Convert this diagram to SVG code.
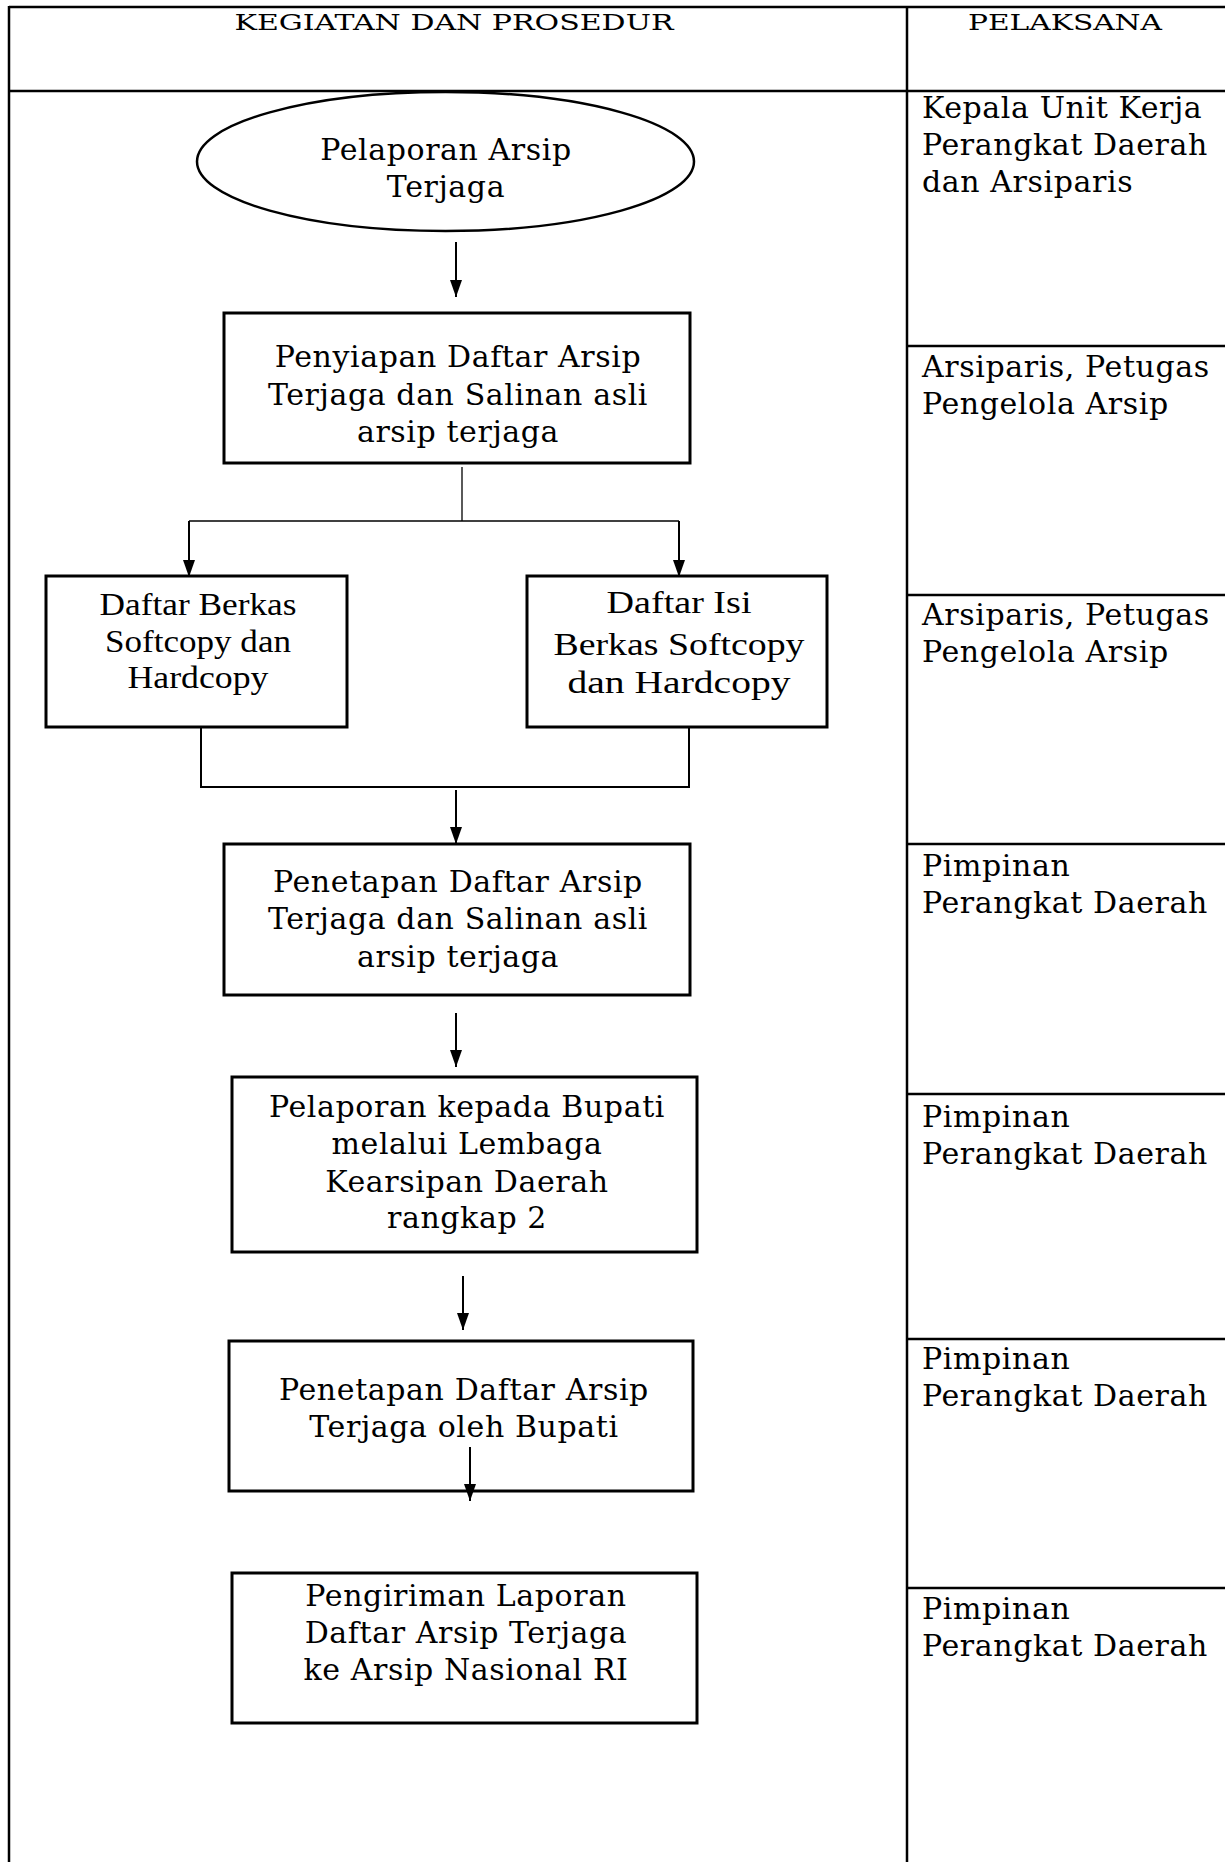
<svg xmlns="http://www.w3.org/2000/svg" width="1225" height="1862" viewBox="0 0 1225 1862">
<style>
.t{font-family:"DejaVu Serif","Liberation Serif",serif;font-size:30px;letter-spacing:0.6px;fill:#000}
.h{font-family:"DejaVu Serif","Liberation Serif",serif;font-size:23px;fill:#000}
.c{font-family:"Liberation Serif","DejaVu Serif",serif;font-size:31px;fill:#000}
.m{text-anchor:middle}
.box{fill:#fff;stroke:#000;stroke-width:3}
.tbl{stroke:#000;stroke-width:2.5;fill:none}
.ln{stroke:#000;stroke-width:2;fill:none}
.thin{stroke:#000;stroke-width:1.3;fill:none}
</style>
<defs>
<marker id="ah" markerUnits="userSpaceOnUse" markerWidth="17" markerHeight="12" viewBox="0 0 17 12" refX="17" refY="6" orient="auto">
<path d="M0,0 L17,6 L0,12 z" fill="#000"/>
</marker>
</defs>
<rect width="1225" height="1862" fill="#fff"/>
<g id="table">
<line class="tbl" x1="9" y1="7" x2="1225" y2="7" stroke-width="3"/>
<line class="tbl" x1="9" y1="6" x2="9" y2="1862"/>
<line class="tbl" x1="907" y1="6" x2="907" y2="1862"/>
<line class="tbl" x1="9" y1="91" x2="1225" y2="91"/>
<line class="tbl" x1="907" y1="346" x2="1225" y2="346"/>
<line class="tbl" x1="907" y1="595" x2="1225" y2="595"/>
<line class="tbl" x1="907" y1="844" x2="1225" y2="844"/>
<line class="tbl" x1="907" y1="1094" x2="1225" y2="1094"/>
<line class="tbl" x1="907" y1="1339" x2="1225" y2="1339"/>
<line class="tbl" x1="907" y1="1588" x2="1225" y2="1588"/>
<text class="h m" x="454" y="30" textLength="439" lengthAdjust="spacingAndGlyphs">KEGIATAN DAN PROSEDUR</text>
<text class="h m" x="1065" y="30" textLength="194" lengthAdjust="spacingAndGlyphs">PELAKSANA</text>
</g>
<g id="pelaksana">
<text class="t" x="922" y="118">Kepala Unit Kerja</text>
<text class="t" x="922" y="155">Perangkat Daerah</text>
<text class="t" x="922" y="192">dan Arsiparis</text>
<text class="t" x="922" y="377">Arsiparis, Petugas</text>
<text class="t" x="922" y="414">Pengelola Arsip</text>
<text class="t" x="922" y="625">Arsiparis, Petugas</text>
<text class="t" x="922" y="662">Pengelola Arsip</text>
<text class="t" x="922" y="876">Pimpinan</text>
<text class="t" x="922" y="913">Perangkat Daerah</text>
<text class="t" x="922" y="1127">Pimpinan</text>
<text class="t" x="922" y="1164">Perangkat Daerah</text>
<text class="t" x="922" y="1369">Pimpinan</text>
<text class="t" x="922" y="1406">Perangkat Daerah</text>
<text class="t" x="922" y="1619">Pimpinan</text>
<text class="t" x="922" y="1656">Perangkat Daerah</text>
</g>
<g id="connectors">
<line class="ln" x1="456" y1="242" x2="456" y2="297" marker-end="url(#ah)"/>
<line class="thin" x1="462" y1="467" x2="462" y2="521"/>
<line class="thin" x1="189" y1="521" x2="679" y2="521"/>
<line class="ln" x1="189" y1="521" x2="189" y2="577" marker-end="url(#ah)"/>
<line class="ln" x1="679" y1="521" x2="679" y2="577" marker-end="url(#ah)"/>
<polyline class="ln" points="201,727 201,787 689,787 689,727"/>
<line class="ln" x1="456" y1="790" x2="456" y2="844" marker-end="url(#ah)"/>
<line class="ln" x1="456" y1="1013" x2="456" y2="1067" marker-end="url(#ah)"/>
<line class="ln" x1="463" y1="1276" x2="463" y2="1330" marker-end="url(#ah)"/>
</g>
<g id="n1">
<ellipse cx="445.5" cy="161.5" rx="248.5" ry="69.5" fill="#fff" stroke="#000" stroke-width="2.5"/>
<text class="t m" x="446" y="160">Pelaporan Arsip</text>
<text class="t m" x="446" y="197">Terjaga</text>
</g>
<g id="n2">
<rect class="box" x="224" y="313" width="466" height="150"/>
<text class="t m" x="458" y="367">Penyiapan Daftar Arsip</text>
<text class="t m" x="458" y="405">Terjaga dan Salinan asli</text>
<text class="t m" x="458" y="442">arsip terjaga</text>
</g>
<g id="n3">
<rect class="box" x="46" y="576" width="301" height="151"/>
<text class="c m" x="198" y="615" textLength="197" lengthAdjust="spacingAndGlyphs">Daftar Berkas</text>
<text class="c m" x="198" y="652" textLength="186" lengthAdjust="spacingAndGlyphs">Softcopy dan</text>
<text class="c m" x="198" y="688" textLength="141" lengthAdjust="spacingAndGlyphs">Hardcopy</text>
</g>
<g id="n4">
<rect class="box" x="527" y="576" width="300" height="151"/>
<text class="c m" x="679" y="613" textLength="145" lengthAdjust="spacingAndGlyphs">Daftar Isi</text>
<text class="c m" x="679" y="655" textLength="251" lengthAdjust="spacingAndGlyphs">Berkas Softcopy</text>
<text class="c m" x="679" y="693" textLength="223" lengthAdjust="spacingAndGlyphs">dan Hardcopy</text>
</g>
<g id="n5">
<rect class="box" x="224" y="844" width="466" height="151"/>
<text class="t m" x="458" y="892">Penetapan Daftar Arsip</text>
<text class="t m" x="458" y="929">Terjaga dan Salinan asli</text>
<text class="t m" x="458" y="967">arsip terjaga</text>
</g>
<g id="n6">
<rect class="box" x="232" y="1077" width="465" height="175"/>
<text class="t m" x="467" y="1117">Pelaporan kepada Bupati</text>
<text class="t m" x="467" y="1154">melalui Lembaga</text>
<text class="t m" x="467" y="1192">Kearsipan Daerah</text>
<text class="t m" x="467" y="1228">rangkap 2</text>
</g>
<g id="n7">
<rect class="box" x="229" y="1341" width="464" height="150"/>
<text class="t m" x="464" y="1400">Penetapan Daftar Arsip</text>
<text class="t m" x="464" y="1437">Terjaga oleh Bupati</text>
</g>
<g id="connectors2">
<line class="ln" x1="470" y1="1447" x2="470" y2="1501" marker-end="url(#ah)"/>
</g>
<g id="n8">
<rect class="box" x="232" y="1573" width="465" height="150"/>
<text class="t m" x="466" y="1606">Pengiriman Laporan</text>
<text class="t m" x="466" y="1643">Daftar Arsip Terjaga</text>
<text class="t m" x="466" y="1680">ke Arsip Nasional RI</text>
</g>
</svg>
